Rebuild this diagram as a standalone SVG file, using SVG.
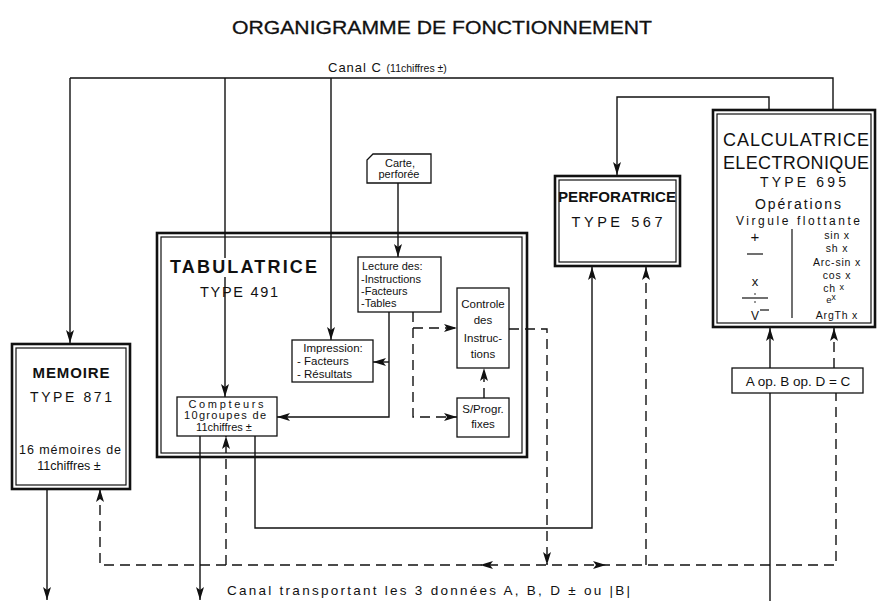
<svg xmlns="http://www.w3.org/2000/svg" width="882" height="601" viewBox="0 0 882 601">
<style>
text{font-family:"Liberation Sans","DejaVu Sans",Arial,sans-serif;fill:#111}
.c{text-anchor:middle}
.ln{fill:none;stroke:#111;stroke-width:1.4}
.ds{fill:none;stroke:#111;stroke-width:1.4;stroke-dasharray:10 6}
.ob{fill:#fff;stroke:#111;stroke-width:2.6}
.ib{fill:none;stroke:#111;stroke-width:1.2}
.bx{fill:#fff;stroke:#111;stroke-width:1.3}
.s11{font-size:11.5px}
.s10{font-size:11px}
.r{font-size:10.5px;text-anchor:middle;letter-spacing:0.8px}
</style>
<defs>
<marker id="ah" viewBox="0 0 13 8" refX="13" refY="4" markerWidth="13" markerHeight="8" markerUnits="userSpaceOnUse" orient="auto-start-reverse"><path d="M0,0 L13,4 L0,8 L3,4 z" fill="#111"/></marker>
</defs>
<rect width="882" height="601" fill="#fff"/>
<text x="442" y="34" class="c" font-size="19" stroke="#111" stroke-width="0.3" textLength="420" lengthAdjust="spacingAndGlyphs">ORGANIGRAMME DE FONCTIONNEMENT</text>
<text x="328" y="72" font-size="13" letter-spacing="1">Canal C <tspan font-size="10.5" letter-spacing="0">(11chiffres ±)</tspan></text>

<g id="connectors">
<path class="ln" d="M70,78 V343" marker-end="url(#ah)"/>
<path class="ln" d="M70,78 H833 V110"/>
<path class="ln" d="M225,78 V258"/>
<path class="ln" d="M225,277 V397" marker-end="url(#ah)"/>
<path class="ln" d="M331,78 V340" marker-end="url(#ah)"/>
<path class="ln" d="M769,110 V97 H617 V175" marker-end="url(#ah)"/>
<path class="ln" d="M398,183 V257" marker-end="url(#ah)"/>
<path class="ln" d="M389,312 V417 H277" marker-end="url(#ah)"/>
<path class="ln" d="M389,362 H373" marker-end="url(#ah)"/>
<path class="ln" d="M255,436 V528 H592 V267" marker-end="url(#ah)"/>
<path class="ln" d="M200,436 V600" marker-end="url(#ah)"/>
<path class="ln" d="M47,489 V600" marker-end="url(#ah)"/>
<path class="ln" d="M770,601 V328" marker-end="url(#ah)"/>
<path class="ds" d="M413,312 V417 H457" marker-end="url(#ah)"/>
<path class="ds" d="M413,328 H457" marker-end="url(#ah)"/>
<path class="ds" d="M484,398 V368" marker-end="url(#ah)"/>
<path class="ds" d="M509,329 H547 V565" marker-end="url(#ah)"/>
<path class="ds" d="M100,489 V565 H836 V393" marker-start="url(#ah)"/>
<path class="ds" d="M226,565 V436" marker-end="url(#ah)"/>
<path class="ds" d="M646,565 V267" marker-end="url(#ah)"/>
<path class="ds" d="M834,368 V328" marker-end="url(#ah)"/>
<path d="M480,565 L493,561 L490,565 L493,569 z" fill="#111"/>
<path d="M606,565 L593,561 L596,565 L593,569 z" fill="#111"/>
</g>

<g id="memoire">
<rect class="ob" x="12" y="344" width="118" height="145"/>
<rect class="ib" x="16" y="348" width="110" height="137"/>
<text x="71" y="378" class="c" font-size="15" font-weight="bold" textLength="77">MEMOIRE</text>
<text x="71" y="402" class="c" font-size="14" textLength="82">TYPE 871</text>
<text x="70" y="454" class="c" font-size="12.5" textLength="102">16 mémoires de</text>
<text x="69" y="470" class="c" font-size="12.5">11chiffres ±</text>
</g>

<g id="tabulatrice">
<rect class="ob" x="157" y="233" width="370" height="224" style="fill:none"/>
<rect class="ib" x="161" y="237" width="361" height="216"/>
<text x="170" y="273" font-size="18" font-weight="bold" textLength="147">TABULATRICE</text>
<text x="239" y="297" class="c" font-size="14.5" textLength="78">TYPE 491</text>
</g>

<g id="compteurs">
<rect class="bx" x="177" y="397" width="100" height="39"/>
<text x="226" y="408" class="c s10" textLength="75">Compteurs</text>
<text x="225" y="419" class="c s10" textLength="82">10groupes de</text>
<text x="224" y="431" class="c s10">11chiffres ±</text>
</g>

<g id="impression">
<rect class="bx" x="292" y="340" width="81" height="42"/>
<text x="333" y="352" class="c s11">Impression:</text>
<text x="297" y="365" class="s11">- Facteurs</text>
<text x="297" y="378" class="s11">- Résultats</text>
</g>

<g id="carte">
<path class="bx" d="M373,154 H431 V183 H367 V160 z"/>
<text x="400" y="167" class="c" font-size="11">Carte,</text>
<text x="399" y="178" class="c" font-size="11">perforée</text>
</g>

<g id="lecture">
<rect class="bx" x="358" y="257" width="83" height="55"/>
<text x="362" y="270" class="s10">Lecture des:</text>
<text x="361" y="283" class="s10">-Instructions</text>
<text x="361" y="295" class="s10">-Facteurs</text>
<text x="361" y="307" class="s10">-Tables</text>
</g>

<g id="controle">
<rect class="bx" x="457" y="288" width="52" height="80"/>
<text x="483" y="308" class="c s11">Controle</text>
<text x="483" y="324" class="c s11">des</text>
<text x="483" y="342" class="c s11">Instruc-</text>
<text x="483" y="358" class="c s11">tions</text>
</g>

<g id="sprogr">
<rect class="bx" x="457" y="398" width="52" height="39"/>
<text x="483" y="413" class="c s11">S/Progr.</text>
<text x="483" y="428" class="c s11">fixes</text>
</g>

<g id="perforatrice">
<rect class="ob" x="555" y="176" width="125" height="90"/>
<rect class="ib" x="559" y="180" width="117" height="82"/>
<text x="617" y="202" class="c" font-size="14" font-weight="bold" textLength="118" lengthAdjust="spacingAndGlyphs">PERFORATRICE</text>
<text x="617" y="227" class="c" font-size="14.5" textLength="91">TYPE 567</text>
</g>

<g id="calculatrice">
<rect class="ob" x="713" y="110" width="162" height="217"/>
<rect class="ib" x="717" y="114" width="154" height="209"/>
<text x="796" y="146" class="c" font-size="18" textLength="146">CALCULATRICE</text>
<text x="796" y="169" class="c" font-size="18" textLength="146">ELECTRONIQUE</text>
<text x="803" y="187" class="c" font-size="14" textLength="86">TYPE 695</text>
<text x="798" y="209" class="c" font-size="14" textLength="86">Opérations</text>
<text x="798" y="225" class="c" font-size="12" textLength="124">Virgule flottante</text>
<line class="ib" x1="792" y1="229" x2="792" y2="318"/>
<text x="755" y="242" class="c" font-size="15">+</text>
<line class="ib" x1="747" y1="254" x2="763" y2="254"/>
<text x="755" y="286" class="c" font-size="13">x</text>
<line class="ib" x1="742" y1="298" x2="768" y2="298"/>
<circle cx="755" cy="294" r="0.8" fill="#111"/>
<circle cx="755" cy="302" r="0.8" fill="#111"/>
<text x="755" y="320" class="c" font-size="12">V</text>
<line class="ib" x1="760" y1="310" x2="769" y2="310"/>
<text x="837" y="239" class="r">sin x</text>
<text x="837" y="252" class="r">sh x</text>
<text x="837" y="266" class="r">Arc-sin x</text>
<text x="837" y="279" class="r">cos x</text>
<text x="834" y="292" class="r">ch <tspan font-size="9" dy="-2">x</tspan></text>
<text x="831" y="303" class="c" font-size="9.5">e<tspan dy="-3" font-size="8.5">x</tspan></text>
<text x="837" y="319" class="r">ArgTh x</text>
</g>

<g id="aop">
<rect class="bx" x="732" y="368" width="131" height="25"/>
<text x="798" y="386" class="c" font-size="13.5">A op. B op. D = C</text>
</g>

<text x="227" y="595" font-size="13.5" textLength="403">Canal transportant les 3 données  A, B, D ± ou |B|</text>
</svg>
